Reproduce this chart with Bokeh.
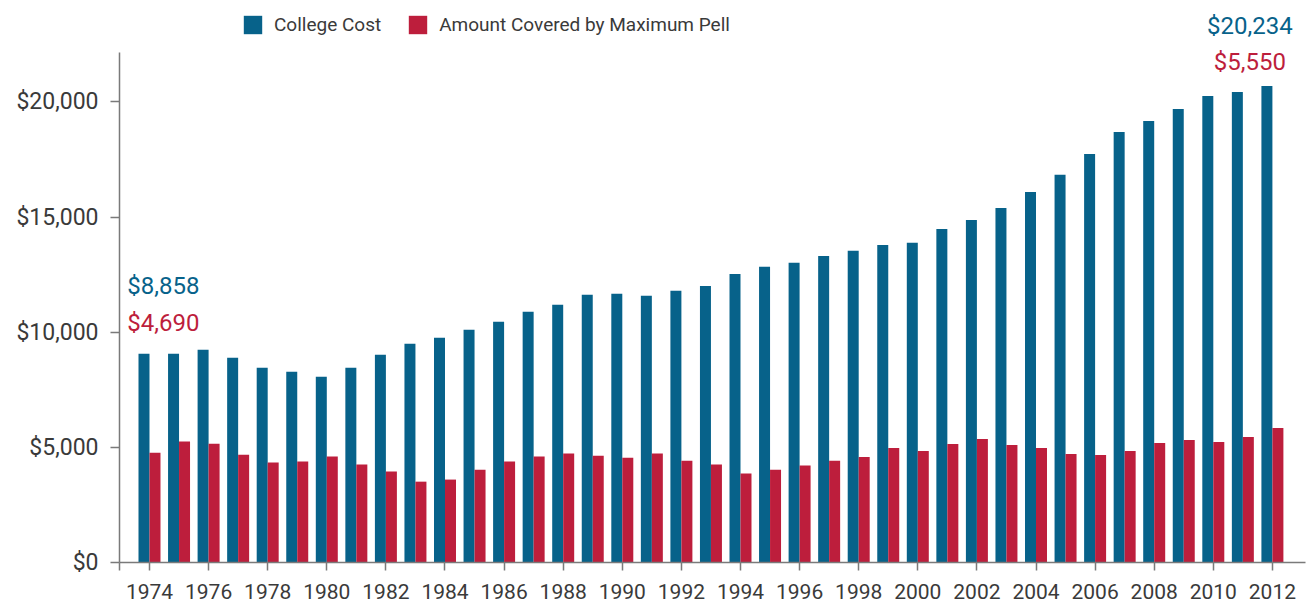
from bokeh.plotting import figure
from bokeh.models import (ColumnDataSource, FixedTicker, NumeralTickFormatter, Legend,
                          LegendItem, Label, Range1d)
from bokeh.embed import file_html
from bokeh.resources import INLINE

years = list(range(1974, 2013))
college_cost = [9060, 9060, 9240, 8890, 8460, 8280, 8070, 8460, 9020, 9500,
                9760, 10100, 10450, 10890, 11190, 11620, 11670, 11580, 11800, 12010,
                12530, 12840, 13010, 13310, 13530, 13790, 13880, 14480, 14870, 15390,
                16090, 16830, 17740, 18690, 19170, 19690, 20250, 20430, 20690]
pell_amount = [4770, 5250, 5160, 4680, 4340, 4380, 4600, 4250, 3950, 3510,
               3600, 4030, 4380, 4600, 4730, 4640, 4550, 4730, 4420, 4250,
               3860, 4030, 4210, 4420, 4580, 4970, 4840, 5150, 5360, 5100,
               4970, 4710, 4670, 4840, 5190, 5320, 5230, 5450, 5840]
series_names = ["College Cost", "Amount Covered by Maximum Pell"]
start_labels = ["$8,858", "$4,690"]
end_labels = ["$20,234", "$5,550"]
x_ticks = [1973] + list(range(1974, 2013, 2))
y_ticks = [0, 5000, 10000, 15000, 20000]

BLUE = "#07628A"
RED = "#BD1E3C"
TEXT = "#3a3a3a"
AXIS = "#7a7a7a"
FONT = "Roboto"

bw = 0.372
src = ColumnDataSource(dict(
    year=years,
    xb=[y - bw / 2 for y in years],
    xr=[y + bw / 2 for y in years],
    cost=college_cost,
    pell=pell_amount,
))

p = figure(width=1312, height=608, output_backend="svg", toolbar_location=None,
           x_range=Range1d(1972.985, 2013.12), y_range=Range1d(0, 24400),
           min_border_left=119, min_border_right=7, min_border_top=0, min_border_bottom=46)
p.outline_line_color = None
p.xgrid.grid_line_color = None
p.ygrid.grid_line_color = None

rb = p.vbar(x="xb", top="cost", width=bw, source=src, fill_color=BLUE, line_color=None)
rr = p.vbar(x="xr", top="pell", width=bw, source=src, fill_color=RED, line_color=None)

for ax in (p.xaxis[0], p.yaxis[0]):
    ax.axis_line_color = AXIS
    ax.axis_line_width = 1.5
    ax.major_tick_line_color = AXIS
    ax.major_tick_line_width = 1.5
    ax.major_tick_in = 0
    ax.minor_tick_line_color = None
    ax.major_label_text_font = FONT
    ax.major_label_text_color = TEXT

p.xaxis.ticker = FixedTicker(ticks=x_ticks)
p.xaxis.major_label_overrides = {1973: ""}
p.xaxis.major_tick_out = 8
p.xaxis.major_label_standoff = 13
p.xaxis.major_label_text_font_size = "21px"

p.yaxis.ticker = FixedTicker(ticks=y_ticks)
p.yaxis.bounds = (0, 22130)
p.yaxis.formatter = NumeralTickFormatter(format="$0,0")
p.yaxis.major_tick_out = 9
p.yaxis.major_label_standoff = 12
p.yaxis.major_label_text_font_size = "23px"

legend = Legend(items=[LegendItem(label=series_names[0], renderers=[rb]),
                       LegendItem(label=series_names[1], renderers=[rr])],
                orientation="horizontal", location=(122, 526),
                glyph_width=23, glyph_height=23, label_height=23,
                label_standoff=10, spacing=25, padding=0, margin=0,
                border_line_color=None, background_fill_alpha=0,
                label_text_font=FONT, label_text_font_size="19px",
                label_text_color=TEXT)
p.add_layout(legend, "center")

lab_kw = dict(x_units="data", y_units="data", text_font=FONT, text_font_size="24px",
              text_baseline="middle")
p.add_layout(Label(x=1973.25, y=12009, text=start_labels[0], text_color=BLUE,
                   text_align="left", **lab_kw))
p.add_layout(Label(x=1973.25, y=10402, text=start_labels[1], text_color=RED,
                   text_align="left", **lab_kw))
p.add_layout(Label(x=2011.24, y=23279, text=end_labels[0], text_color=BLUE,
                   text_align="center", **lab_kw))
p.add_layout(Label(x=2011.24, y=21737, text=end_labels[1], text_color=RED,
                   text_align="center", **lab_kw))

open("out.html", "w").write(file_html(p, INLINE))
